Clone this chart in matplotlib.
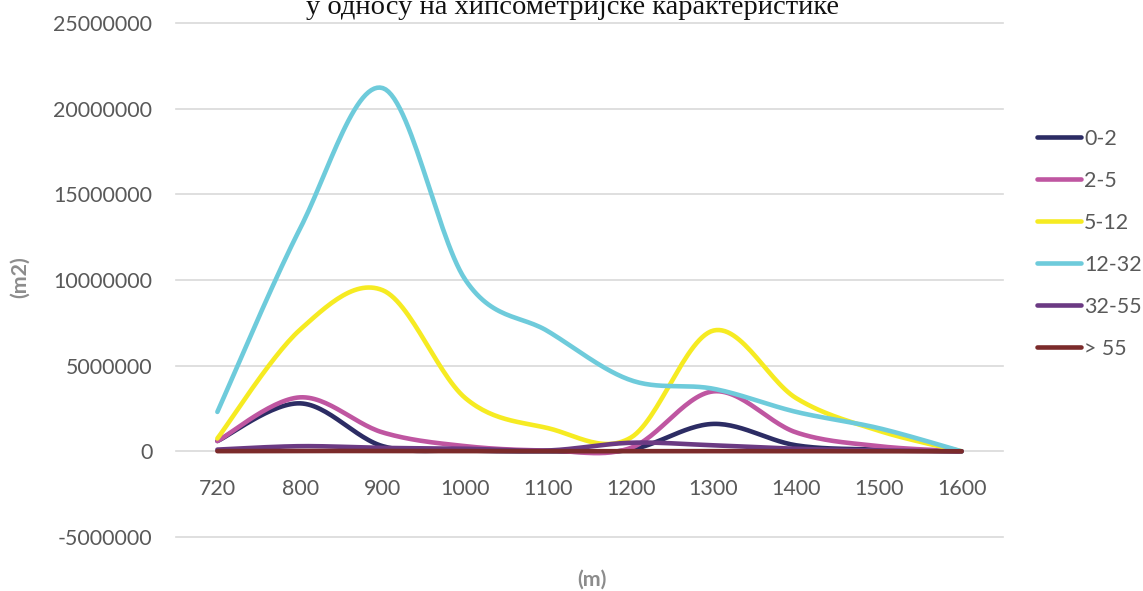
import numpy as np
import matplotlib
matplotlib.use("Agg")
import matplotlib.pyplot as plt

categories = ["720", "800", "900", "1000", "1100", "1200", "1300", "1400", "1500", "1600"]
series_names = ["0-2", "2-5", "5-12", "12-32", "32-55", "> 55"]
s_0_2 = [600000, 2800000, 300000, 50000, 0, 100000, 1600000, 350000, 100000, 0]
s_2_5 = [600000, 3150000, 1100000, 300000, 50000, 200000, 3500000, 1100000, 300000, 0]
s_5_12 = [750000, 7100000, 9400000, 3100000, 1350000, 800000, 7050000, 3100000, 1200000, 0]
s_12_32 = [2300000, 13000000, 21200000, 10000000, 7000000, 4150000, 3650000, 2300000, 1350000, 0]
s_32_55 = [100000, 300000, 200000, 150000, 50000, 500000, 350000, 150000, 50000, 0]
s_gt55 = [10000, 20000, 15000, 10000, 5000, 10000, 10000, 5000, 2000, 0]
title_text = "у односу на хипсометријске карактеристике"
y_ticks = [-5000000, 0, 5000000, 10000000, 15000000, 20000000, 25000000]

colors = ["#2c2c64", "#bf56a1", "#f6eb22", "#6ecbdb", "#6b3a83", "#7b2b2b"]
all_series = [s_0_2, s_2_5, s_5_12, s_12_32, s_32_55, s_gt55]


def smooth(xs, ys, n=30, tension=1.0 / 6):
    xs = np.asarray(xs, float)
    ys = np.asarray(ys, float)
    px = np.concatenate([[xs[0]], xs, [xs[-1]]])
    py = np.concatenate([[ys[0]], ys, [ys[-1]]])
    ox, oy = [], []
    for i in range(1, len(px) - 2):
        p0 = np.array([px[i], py[i]])
        p3 = np.array([px[i + 1], py[i + 1]])
        c1 = p0 + (np.array([px[i + 1], py[i + 1]]) - np.array([px[i - 1], py[i - 1]])) * tension
        c2 = p3 - (np.array([px[i + 2], py[i + 2]]) - np.array([px[i], py[i]])) * tension
        t = np.linspace(0, 1, n)[:, None]
        pts = ((1 - t) ** 3) * p0 + 3 * ((1 - t) ** 2) * t * c1 + 3 * (1 - t) * t ** 2 * c2 + t ** 3 * p3
        ox.extend(pts[:, 0])
        oy.extend(pts[:, 1])
    return np.array(ox), np.array(oy)


fig = plt.figure(figsize=(11.43, 5.91), dpi=100)
ax = fig.add_axes([0.154, 0.0914, 0.7235, 0.8697])

x = np.arange(len(categories))
for name, vals, c in zip(series_names, all_series, colors):
    sx, sy = smooth(x, vals)
    ax.plot(sx, sy, color=c, lw=3.3, solid_capstyle="round", label=name)

ax.set_xlim(-0.5, len(categories) - 0.5)
ax.set_ylim(-5000000, 25000000)
ax.set_yticks(y_ticks)
ax.set_yticklabels([str(v) for v in y_ticks])
ax.set_xticks(x)
ax.set_xticklabels(categories)
ax.grid(axis="y", color="#d9d9d9", lw=1.2)
for gl in ax.get_ygridlines():
    gl.set_clip_on(False)
ax.set_axisbelow(True)
for sp in ax.spines.values():
    sp.set_visible(False)
ax.spines["bottom"].set_position(("data", 0))
ax.tick_params(axis="both", length=0, labelsize=15.4, labelcolor="#595959", labelfontfamily="Lato")
ax.tick_params(axis="x", pad=20)
ax.tick_params(axis="y", pad=17)

fig.text(0.0175, 1 - 277 / 591, "(m2)", rotation=90, ha="center", va="center", fontsize=15.4,
         color="#8c8c8c", fontweight="bold", family="Lato")
fig.text(591.5 / 1143, 1 - 580 / 591, "(m)", ha="center", va="center", fontsize=15.4,
         color="#8c8c8c", fontweight="bold", family="Lato")
fig.text(573 / 1143, 1 - 14 / 591, title_text, ha="center", va="baseline", fontsize=20.5,
         family="Liberation Serif", color="#111111")

leg = ax.legend(loc="upper left", bbox_to_anchor=(1.031, 0.811), frameon=False,
                prop={"family": "Lato", "size": 15.4}, handlelength=2.05, handletextpad=0.15,
                labelspacing=1.03, borderaxespad=0)
for t in leg.get_texts():
    t.set_color("#595959")

fig.savefig("out.png", dpi=100)
